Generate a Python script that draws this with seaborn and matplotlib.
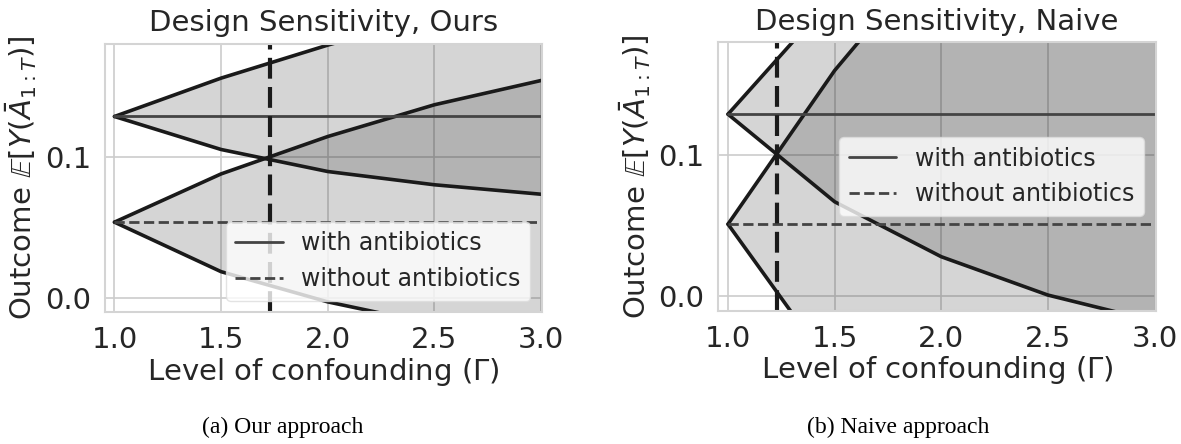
import numpy as np
import matplotlib
matplotlib.use("Agg")
import matplotlib.pyplot as plt
import seaborn as sns

# Level of confounding (Gamma) grid
gamma = [1.0, 1.5, 2.0, 2.5, 3.0]

# --- Our approach -------------------------------------------------------
ours_with_mean = 0.1284
ours_without_mean = 0.0535
ours_with_upper = [0.1284, 0.1556, 0.1790, 0.2000, 0.2190]
ours_with_lower = [0.1284, 0.1050, 0.0894, 0.0800, 0.0733]
ours_without_upper = [0.0535, 0.0877, 0.1142, 0.1367, 0.1539]
ours_without_lower = [0.0535, 0.0184, -0.0030, -0.0190, -0.0320]
ours_gamma_star = 1.731

# --- Naive approach -----------------------------------------------------
naive_with_mean = 0.1290
naive_without_mean = 0.0510
naive_with_upper = [0.1290, 0.2135, 0.2800, 0.3400, 0.4000]
naive_with_lower = [0.1290, 0.0669, 0.0279, 0.0007, -0.0180]
naive_without_upper = [0.0510, 0.1600, 0.2500, 0.3300, 0.4100]
naive_without_lower = [0.0510, -0.0540, -0.1000, -0.1400, -0.1800]
naive_gamma_star = 1.228

xticks = [1.0, 1.5, 2.0, 2.5, 3.0]
yticks = [0.0, 0.1]

sns.set_theme(style="whitegrid")
plt.rcParams["font.family"] = ["DejaVu Sans"]
plt.rcParams["mathtext.fontset"] = "dejavusans"

fig = plt.figure(figsize=(11.81, 4.44), dpi=100)
ax1 = fig.add_axes([0.0888, 0.2966, 0.3702, 0.6050])
ax2 = fig.add_axes([0.6083, 0.3002, 0.3702, 0.6045])


def draw_panel(ax, title, w_mean, wo_mean, w_up, w_lo, wo_up, wo_lo, g_star, legend_loc):
    # confidence bands, overlapping area comes out darker
    ax.fill_between(gamma, w_lo, w_up, color="k", alpha=0.18, lw=0)
    ax.fill_between(gamma, wo_lo, wo_up, color="k", alpha=0.18, lw=0)
    for bound in [w_up, w_lo, wo_up, wo_lo]:
        sns.lineplot(x=gamma, y=bound, ax=ax, color="#1a1a1a", lw=2.6)
    sns.lineplot(x=gamma, y=[w_mean] * len(gamma), ax=ax, color="#444444",
                 lw=2.0, label="with antibiotics")
    sns.lineplot(x=gamma, y=[wo_mean] * len(gamma), ax=ax, color="#444444",
                 lw=2.0, linestyle="--", label="without antibiotics")
    ax.axvline(g_star, color="#1a1a1a", lw=3, dashes=(5, 2))

    ax.set_xlim(0.955, 3.005)
    ax.set_ylim(-0.0104, 0.18)
    ax.set_xticks(xticks)
    ax.set_yticks(yticks)
    ax.set_xticklabels([f"{t:.1f}" for t in xticks])
    ax.set_yticklabels([f"{t:.1f}" for t in yticks])
    ax.tick_params(labelsize=21, pad=4, colors="#262626")
    ax.set_title(title, fontsize=21, color="#262626", pad=9)
    ax.set_xlabel(r"Level of confounding ($\Gamma$)", fontsize=21, color="#262626", labelpad=1)
    ax.set_ylabel(r"Outcome $\mathbb{E}[Y(\bar{A}_{1:T})]$", fontsize=21, color="#262626", labelpad=4)
    for s in ax.spines.values():
        s.set_color("#d4d4d4")
        s.set_linewidth(1.5)
    ax.grid(True, color="#cccccc", lw=1.2)
    ax.legend(loc=legend_loc, fontsize=17, frameon=True, framealpha=0.8,
              edgecolor="#dddddd", handlelength=2.0, labelcolor="#262626")


draw_panel(ax1, "Design Sensitivity, Ours", ours_with_mean, ours_without_mean,
           ours_with_upper, ours_with_lower, ours_without_upper, ours_without_lower,
           ours_gamma_star, "lower right")
draw_panel(ax2, "Design Sensitivity, Naive", naive_with_mean, naive_without_mean,
           naive_with_upper, naive_with_lower, naive_without_upper, naive_without_lower,
           naive_gamma_star, "center right")

fig.text(283 / 1181, 0.0255, "(a) Our approach", ha="center", va="baseline",
         fontsize=17, family="Liberation Serif", color="black")
fig.text(898.5 / 1181, 0.0255, "(b) Naive approach", ha="center", va="baseline",
         fontsize=17, family="Liberation Serif", color="black")

fig.savefig("out.png", dpi=100)
